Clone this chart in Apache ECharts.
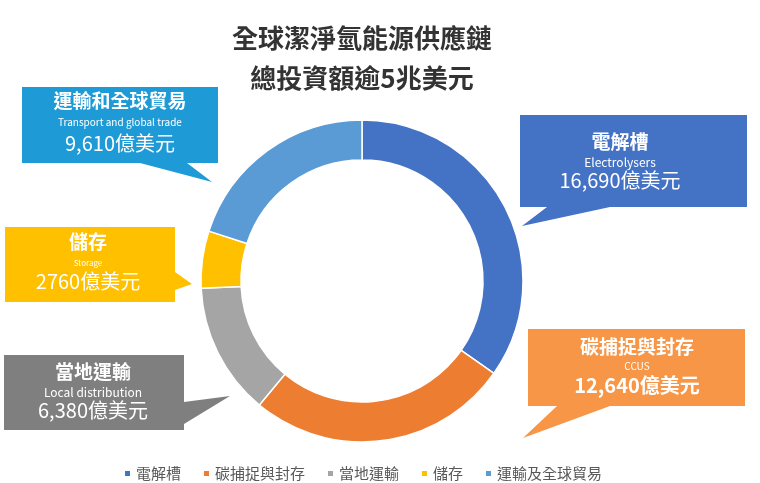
<!DOCTYPE html>
<html><head><meta charset="utf-8">
<script src="https://cdn.jsdelivr.net/npm/echarts@6/dist/echarts.min.js"></script>
<style>html,body{margin:0;padding:0;background:#fff}#c{width:760px;height:483px}</style>
</head><body><div id="c"></div>
<script>
var categories = ['電解槽', '碳捕捉與封存', '當地運輸', '儲存', '運輸及全球貿易'];
var values = [16690, 12640, 6380, 2760, 9610];
var calloutTitles = ['電解槽', '碳捕捉與封存', '當地運輸', '儲存', '運輸和全球貿易'];
var calloutEnglish = ['Electrolysers', 'CCUS', 'Local distribution', 'Storage', 'Transport and global trade'];
var valueLabels = ['16,690億美元', '12,640億美元', '6,380億美元', '2760億美元', '9,610億美元'];
var titleLines = ['全球潔淨氫能源供應鏈', '總投資額逾5兆美元'];

var sliceColors = ['#4472C4', '#ED7D31', '#A5A5A5', '#FFC000', '#5B9BD5'];
var boxColors = ['#4472C4', '#F79646', '#7F7F7F', '#FFC000', '#1E9AD6'];
var FONT = '"Noto Sans CJK TC", "Noto Sans", sans-serif';

// callout layout (annotation geometry): polygon + text center x, title y, sub y, value y, sub font size
var callouts = [
  {pts: [[520,115],[747,115],[747,207],[610,207],[522,226],[547,207],[520,207]], cx: 620, ty: 142, sy: 162, vy: 180, sfs: 12, vw: 'normal'},
  {pts: [[528,329],[745,329],[745,406],[610,406],[523,438],[557,406],[528,406]], cx: 637, ty: 347, sy: 366, vy: 385, sfs: 10, vw: 600},
  {pts: [[4,355],[184,355],[184,402],[230,396],[184,424],[184,430],[4,430]], cx: 93, ty: 372, sy: 392, vy: 410, sfs: 12, vw: 'normal'},
  {pts: [[5,227],[175,227],[175,272],[192,284],[175,290],[175,302],[5,302]], cx: 88, ty: 242, sy: 263, vy: 281, sfs: 8, vw: 'normal'},
  {pts: [[22,87],[218,87],[218,163],[187,163],[212,182],[140,163],[22,163]], cx: 120, ty: 101, sy: 122, vy: 143, sfs: 10, vw: 'normal'}
];

var graphics = [];
titleLines.forEach(function (t, i) {
  graphics.push({type: 'text', x: 362, y: 38 + i * 40, style: {text: t, fill: '#333333', font: 'bold 26px ' + FONT, textAlign: 'center', textVerticalAlign: 'middle'}});
});
callouts.forEach(function (c, i) {
  graphics.push({type: 'polygon', shape: {points: c.pts}, style: {fill: boxColors[i]}});
  graphics.push({type: 'text', x: c.cx, y: c.ty, style: {text: calloutTitles[i], fill: '#fff', font: 'bold 19px ' + FONT, textAlign: 'center', textVerticalAlign: 'middle'}});
  graphics.push({type: 'text', x: c.cx, y: c.sy, style: {text: calloutEnglish[i], fill: '#fff', font: c.sfs + 'px ' + FONT, textAlign: 'center', textVerticalAlign: 'middle'}});
  graphics.push({type: 'text', x: c.cx, y: c.vy, style: {text: valueLabels[i], fill: '#fff', font: c.vw + ' 20px ' + FONT, textAlign: 'center', textVerticalAlign: 'middle'}});
});

var chart = echarts.init(document.getElementById('c'), null, {renderer: 'canvas'});
chart.setOption({
  animation: false,
  color: sliceColors,
  legend: {
    data: categories,
    left: 118, top: 461,
    icon: 'rect', itemWidth: 7, itemHeight: 7, itemGap: 21,
    textStyle: {fontSize: 15, color: '#595959', fontFamily: FONT}
  },
  series: [{
    type: 'pie',
    center: [362, 281],
    radius: [121, 161],
    startAngle: 90,
    clockwise: true,
    label: {show: false},
    labelLine: {show: false},
    itemStyle: {borderColor: '#fff', borderWidth: 1.5},
    emphasis: {disabled: true},
    data: categories.map(function (n, i) { return {name: n, value: values[i]}; })
  }],
  graphic: graphics
});
</script></body></html>
